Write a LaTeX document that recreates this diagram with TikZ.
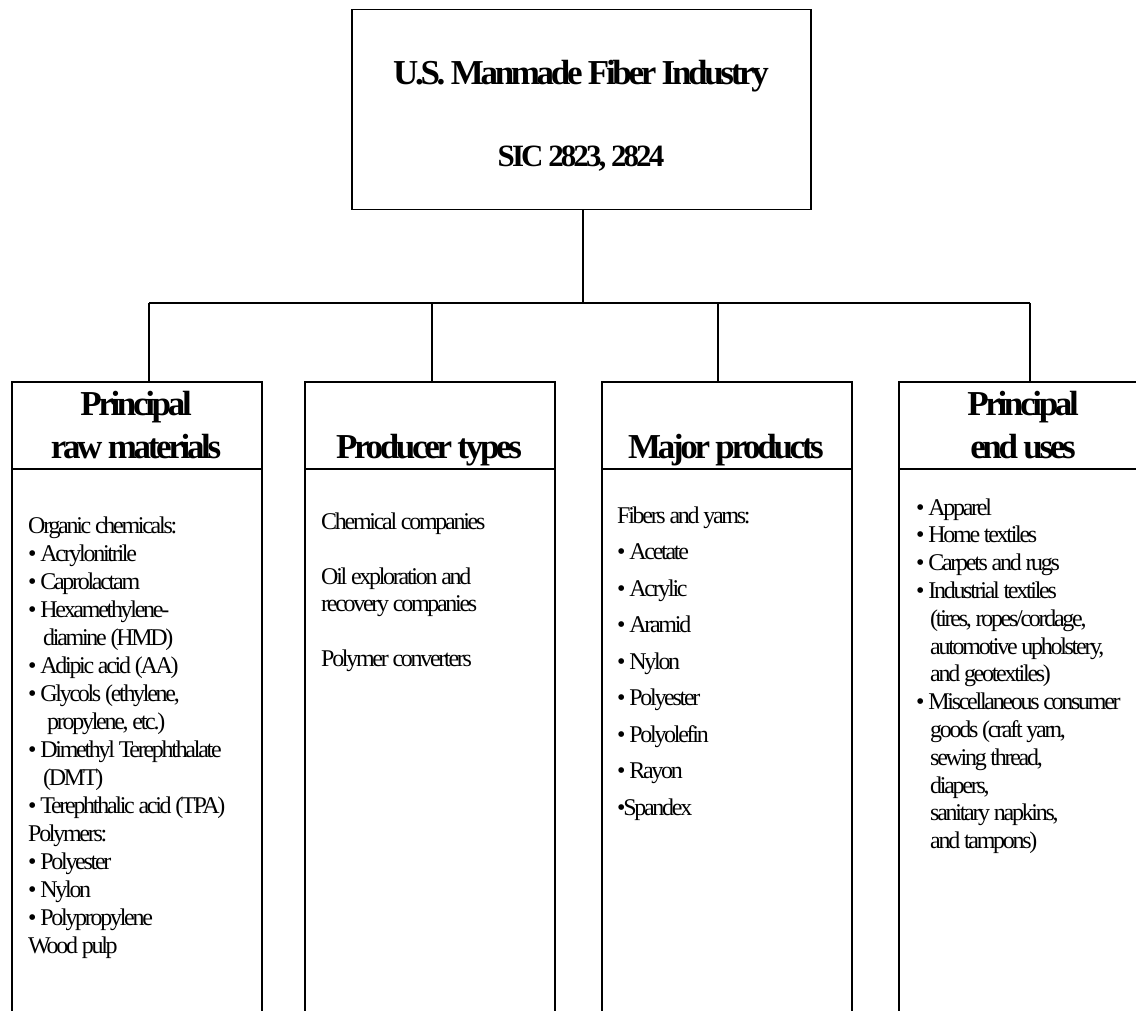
\documentclass[tikz,border=0pt]{standalone}
\usepackage{fontspec}
\setmainfont{Liberation Serif}[LetterSpace=-9.5]
\tikzset{
  frame/.style={draw, line width=1.5pt, inner sep=0pt, anchor=north west},
  colbox/.style={frame, minimum width=250pt, minimum height=700pt},
  conn/.style={line width=1.5pt},
  headtxt/.style={anchor=base, inner sep=0pt, font=\bfseries\fontsize{35}{43}\selectfont},
  bodytxt/.style={anchor=base west, inner sep=0pt, font=\fontsize{24}{28}\selectfont},
}
\newcommand{\ind}{\hspace*{15pt}}
\begin{document}
\begin{tikzpicture}[x=1pt,y=-1pt]
\useasboundingbox (0,0) rectangle (1136,1011);
\clip (0,0) rectangle (1136,1011);

% top box
\node[frame, minimum width=459pt, minimum height=200pt] (top) at (351,9) {};
\node[anchor=base, inner sep=0pt, font=\bfseries\fontsize{35}{40}\selectfont] (title) at (581,85) {U.S. Manmade Fiber Industry};
\node[anchor=base, inner sep=0pt, font=\bfseries\fontsize{31}{36}\selectfont] (sic) at (581,167) {SIC 2823, 2824};

% column boxes
\node[colbox] (b1) at (11,381) {};
\node[colbox] (b2) at (304,381) {};
\node[colbox] (b3) at (601,381) {};
\node[colbox] (b4) at (898,381) {};
\foreach \b in {b1,b2,b3,b4}{
  \draw[conn] (\b.west |- 0,469) -- (\b.east |- 0,469);
}

% connectors
\coordinate (bus) at (583,303);
\coordinate (j1) at (149,303);
\coordinate (j2) at (432,303);
\coordinate (j3) at (718,303);
\coordinate (j4) at (1030,303);
\draw[conn] (top.south -| bus) -- (bus);
\draw[conn] (j1) -- (j4);
\draw[conn] (j1) -- (j1 |- b1.north);
\draw[conn] (j2) -- (j2 |- b2.north);
\draw[conn] (j3) -- (j3 |- b3.north);
\draw[conn] (j4) -- (j4 |- b4.north);

% headings
\node[headtxt] (h1) at (136,415) {\parbox[t]{250pt}{\centering Principal\\raw materials}};
\node[headtxt] (h2) at (429,458) {Producer types};
\node[headtxt] (h3) at (726,458) {Major products};
\node[headtxt] (h4) at (1023,415) {\parbox[t]{250pt}{\centering Principal\\end uses}};

% body texts
\node[bodytxt] (t1) at (28,533) {\parbox[t]{300pt}{\fontsize{24}{28}\selectfont
Organic chemicals:\\
• Acrylonitrile\\
• Caprolactam\\
• Hexamethylene-\\
\ind diamine (HMD)\\
• Adipic acid (AA)\\
• Glycols (ethylene,\\
\hspace*{19pt}propylene, etc.)\\
• Dimethyl Terephthalate\\
\ind (DMT)\\
• Terephthalic acid (TPA)\\
Polymers:\\
• Polyester\\
• Nylon\\
• Polypropylene\\
Wood pulp}};

\node[bodytxt] (t2) at (321,529) {\parbox[t]{300pt}{\fontsize{24}{27.5}\selectfont
Chemical companies\\[27.5pt]
Oil exploration and\\
recovery companies\\[27.5pt]
Polymer converters}};

\node[bodytxt] (t3) at (617,523) {\parbox[t]{300pt}{\fontsize{24}{36.5}\selectfont
Fibers and yarns:\\
• Acetate\\
• Acrylic\\
• Aramid\\
• Nylon\\
• Polyester\\
• Polyolefin\\
• Rayon\\
•Spandex}};

\node[bodytxt] (t4) at (916,515) {\parbox[t]{300pt}{\fontsize{24}{27.8}\selectfont
• Apparel\\
• Home textiles\\
• Carpets and rugs\\
• Industrial textiles\\
\hspace*{14pt}(tires, ropes/cordage,\\
\hspace*{14pt}automotive upholstery,\\
\hspace*{14pt}and geotextiles)\\
• Miscellaneous consumer\\
\hspace*{14pt}goods (craft yarn,\\
\hspace*{14pt}sewing thread,\\
\hspace*{14pt}diapers,\\
\hspace*{14pt}sanitary napkins,\\
\hspace*{14pt}and tampons)}};
\end{tikzpicture}
\end{document}
